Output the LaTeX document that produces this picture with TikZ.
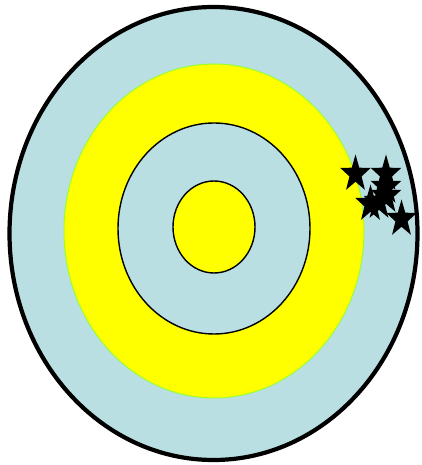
\documentclass[tikz,border=0pt]{standalone}
\definecolor{ringblue}{HTML}{B9DFE3}
\definecolor{ringyellow}{HTML}{FFFF00}
\definecolor{ringgreen}{HTML}{99FF33}
\tikzset{
  pics/starpic/.style={code={
    \fill[black] (90:1) \foreach \i in {1,...,9} { -- ({90+36*\i}:{(mod(\i,2)==1) ? 0.4 : 1}) } -- cycle;
  }},
  ring/.style={fill=ringblue, draw=black},
}
\begin{document}
\begin{tikzpicture}[x=1pt,y=1pt]
\useasboundingbox (0,0) rectangle (422,465);
\draw[ring, line width=4.2pt] (213.5,231.5) ellipse [x radius=204, y radius=226.5];
\draw[fill=ringyellow, draw=ringgreen, line width=1pt] (214,234) ellipse [x radius=150, y radius=167];
\draw[ring, line width=1.4pt] (214,236.5) ellipse [x radius=96, y radius=105.5];
\draw[fill=ringyellow, draw=black, line width=1.4pt] (214,238) ellipse [x radius=41, y radius=46];
\foreach \sx/\sy in {355.5/291, 386/291, 386/278, 386/269, 370.5/261, 379/263, 401.5/246}
  \pic[xscale=16, yscale=19.5] at (\sx,\sy) {starpic};
\end{tikzpicture}
\end{document}
